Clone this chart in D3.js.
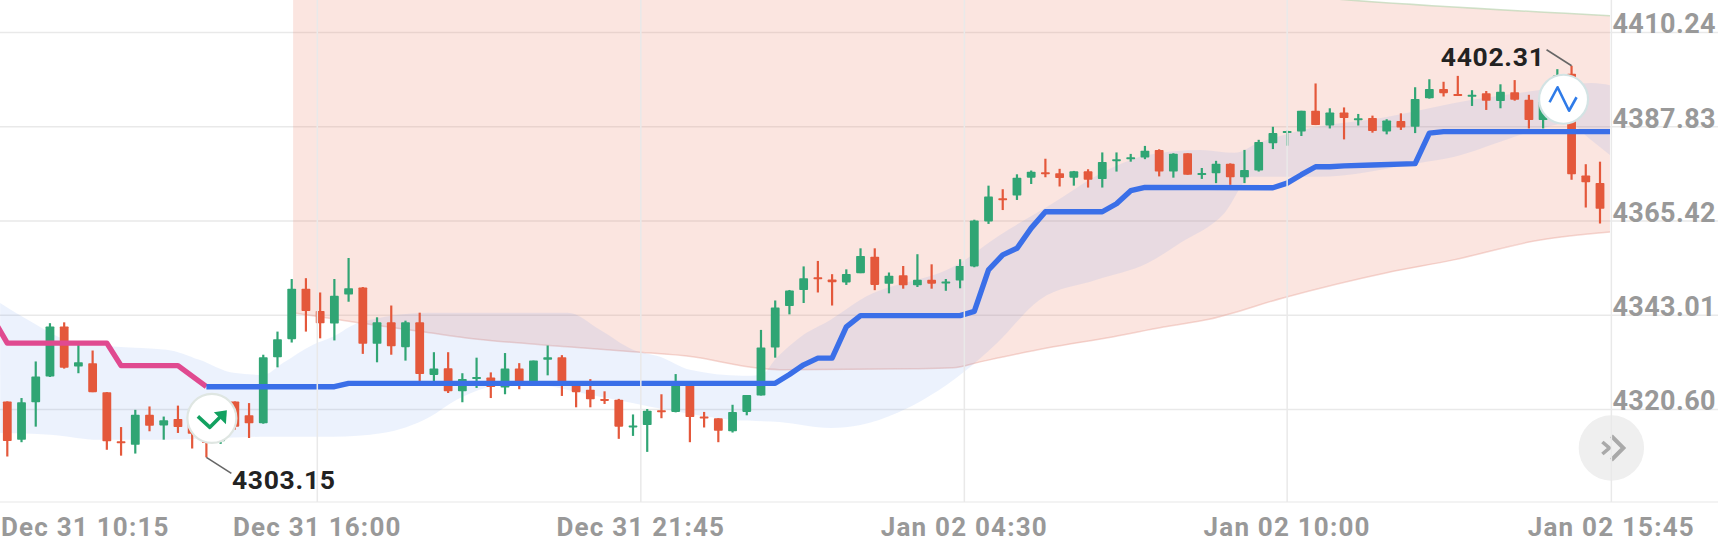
<!DOCTYPE html>
<html><head><meta charset="utf-8">
<style>html,body{margin:0;padding:0;background:#fff;overflow:hidden}svg{display:block}</style>
<script src="https://cdn.jsdelivr.net/npm/d3@7"></script></head><body><svg id="c"></svg>
<script>
const opens=[4322.5,4313.4,4322.3,4328.4,4340.3,4330.8,4331.6,4324.7,4313.0,4312.2,4319.3,4316.8,4318.3,4318.1,4315.0,4313.0,4322.5,4319.2,4317.3,4333.0,4337.3,4349.3,4344.0,4341.0,4347.9,4349.6,4336.2,4341.3,4335.4,4341.3,4328.8,4330.4,4324.9,4327.8,4328.2,4325.8,4330.3,4326.4,4332.4,4333.0,4326.4,4325.3,4323.1,4322.9,4316.5,4316.9,4320.4,4320.0,4326.4,4318.9,4318.5,4315.4,4320.0,4323.9,4335.3,4345.2,4349.0,4352.0,4351.5,4350.8,4353.0,4356.9,4350.45,4352.5,4350.1,4351.4,4350.8,4351.25,4354.6,4365.3,4370.8,4371.45,4375.7,4377.0,4376.75,4375.7,4377.2,4375.4,4379.8,4380.3,4380.5,4382.3,4377.15,4381.5,4376.4,4376.75,4379.0,4375.8,4377.4,4383.9,4386.5,4386.65,4391.6,4388.1,4391.2,4389.6,4389.9,4386.65,4389.2,4387.8,4394.6,4396.8,4395.6,4395.1,4395.8,4393.9,4396.0,4394.2,4389.4,4394.2,4400.4,4376.2,4374.45];
const highs=[4322.5,4323.3,4332.0,4341.1,4341.3,4336.0,4334.6,4324.7,4316.4,4320.5,4321.3,4318.9,4321.5,4320.5,4315.8,4316.5,4322.5,4322.1,4333.6,4339.1,4351.6,4351.8,4348.4,4351.6,4356.6,4349.7,4342.5,4345.3,4341.7,4343.6,4334.2,4334.2,4329.2,4332.9,4329.4,4334.0,4331.6,4332.2,4335.8,4333.5,4326.4,4327.8,4324.9,4323.1,4319.4,4320.7,4324.2,4329.0,4326.4,4320.0,4318.5,4321.7,4324.0,4339.5,4346.5,4349.0,4354.6,4355.9,4352.75,4353.9,4358.9,4358.9,4353.15,4354.7,4357.5,4355.1,4351.6,4356.3,4365.7,4373.8,4372.95,4376.5,4377.4,4380.2,4377.8,4377.3,4377.7,4381.7,4381.7,4381.35,4383.25,4382.45,4381.5,4381.5,4378.0,4379.7,4379.1,4382.3,4384.7,4387.8,4386.9,4391.6,4398.1,4392.2,4392.4,4390.85,4390.45,4389.6,4391.0,4397.2,4399.1,4398.5,4399.9,4396.5,4396.3,4397.9,4398.9,4395.4,4394.0,4401.5,4402.31,4378.9,4379.5];
const lows=[4309.4,4312.8,4316.5,4328.3,4330.3,4329.2,4324.7,4311.0,4309.6,4310.1,4315.4,4313.4,4315.0,4311.3,4309.2,4312.4,4315.8,4313.8,4317.2,4330.6,4336.5,4339.1,4337.5,4337.0,4346.2,4333.8,4331.8,4333.6,4332.2,4327.2,4327.2,4324.5,4322.3,4325.7,4323.3,4324.2,4325.4,4326.3,4328.7,4323.8,4321.1,4321.1,4321.9,4313.6,4314.3,4310.5,4318.5,4319.9,4312.8,4316.3,4312.8,4315.1,4319.2,4323.9,4332.9,4343.2,4345.9,4348.4,4345.3,4350.2,4353.0,4348.95,4348.2,4349.3,4349.7,4349.3,4348.8,4349.4,4354.4,4364.7,4368.0,4370.4,4374.2,4375.8,4373.6,4373.8,4373.35,4373.35,4377.15,4379.5,4380.1,4376.0,4375.7,4376.4,4375.4,4374.4,4374.0,4374.4,4377.15,4382.5,4383.3,4385.6,4388.2,4387.4,4384.8,4388.1,4386.4,4386.0,4387.05,4386.3,4394.5,4395.0,4395.2,4392.75,4391.8,4392.2,4394.0,4387.4,4387.4,4393.5,4375.2,4368.6,4364.8];
const closes=[4313.1,4322.3,4328.4,4340.3,4330.5,4331.8,4324.7,4313.0,4312.6,4319.3,4316.7,4318.0,4316.4,4314.8,4312.6,4315.8,4316.5,4317.3,4333.0,4337.3,4349.3,4344.0,4341.1,4347.6,4349.4,4336.2,4341.3,4335.6,4341.3,4329.0,4330.3,4324.9,4327.8,4328.3,4325.9,4330.3,4326.4,4332.2,4333.0,4326.4,4324.7,4323.0,4322.8,4316.5,4316.8,4320.3,4320.1,4326.4,4318.8,4318.6,4315.5,4320.0,4324.0,4335.3,4344.8,4348.9,4351.8,4351.6,4350.85,4352.8,4357.1,4350.2,4352.4,4350.1,4351.4,4350.5,4351.0,4354.7,4365.5,4371.2,4370.6,4375.7,4377.1,4376.7,4375.6,4377.2,4375.2,4379.45,4380.1,4380.55,4382.1,4377.15,4381.4,4376.4,4376.8,4379.0,4375.8,4377.5,4384.2,4386.3,4386.8,4391.6,4388.2,4391.2,4389.9,4389.8,4386.8,4389.3,4387.6,4394.4,4396.8,4395.8,4395.3,4395.4,4394.0,4396.1,4394.2,4389.4,4393.8,4400.0,4376.5,4374.6,4368.3];
const priceTicks=[4410.24,4387.83,4365.42,4343.01,4320.60];
const timeTickPos=[-1,21.8,44.55,67.3,90.0,112.8];
const timeTickLabels=["Dec 31 10:15","Dec 31 16:00","Dec 31 21:45","Jan 02 04:30","Jan 02 10:00","Jan 02 15:45"];
const pinkIdx=[-2,0,7,8,12,14];
const pinkVal=[4348,4336.35,4336.35,4331.0,4331.0,4326.0];
const blueIdx=[14,23,24,54,55,56,57,58,59,60,67,68,69,70,71,72,73,77,78,79,80,89,90,91,92,93,94,96,99,100,101,113];
const blueVal=[4326.0,4326.0,4326.8,4326.8,4328.9,4331.2,4332.8,4332.8,4340.2,4342.9,4342.9,4343.9,4353.8,4357.35,4358.9,4363.7,4367.6,4367.6,4369.5,4372.6,4373.4,4373.3,4374.4,4376.4,4378.3,4378.3,4378.5,4378.7,4379.05,4386.3,4386.65,4386.65];
const cloudTopIdx=[-0.5,1.8,4.2,7.7,11.2,13.5,15.9,18.0,19.4,21.5,22.9,24.7,29.7,39.4,41.7,44.0,45.9,48.0,51.7,53.0,54.1,55.8,57.9,60.0,67.0,69.6,73.1,77.8,80.2,83.9,86.3,88.0,91.1,97.0,103.0,107.8,111.4,112.7];
const cloudTopVal=[4345.9,4341.2,4337.1,4335.5,4334.8,4332.4,4329.3,4328.8,4331.7,4336.0,4337.9,4341.2,4343.6,4343.6,4339.5,4334.8,4333.1,4330.0,4328.6,4328.8,4332.9,4337.9,4341.9,4346.65,4355.4,4361.6,4368.75,4378.25,4381.1,4382.3,4381.6,4384.0,4387.05,4390.1,4394.2,4396.55,4398.2,4397.7];
const cloudBotIdx=[-0.5,3.0,6.5,11.2,18.3,22.9,26.4,29.7,31.6,35.9,41.7,46.4,51.0,54.3,57.9,60.0,62.6,67.2,69.6,72.6,76.6,80.2,82.5,85.6,87.5,92.1,99.3,101.7,105.4,108.0,109.8,111.2,112.7];
const cloudBotVal=[4315.0,4314.6,4313.4,4313.4,4314.1,4314.1,4315.0,4318.8,4322.9,4326.9,4323.6,4320.5,4318.1,4317.6,4316.2,4316.9,4319.8,4329.3,4336.4,4346.65,4351.4,4355.4,4360.2,4367.3,4375.9,4375.9,4379.2,4380.6,4384.7,4387.5,4388.7,4385.15,4381.1];
const bandBotIdx=[20.1,24.7,29.7,32.3,39.4,44.0,48.2,52.2,54.6,63.7,66.5,68.4,73.1,77.8,81.3,84.6,89.7,97.0,101.7,107.8,112.7];
const bandBotVal=[4343.6,4341.2,4338.8,4337.6,4335.5,4334.3,4333.1,4330.7,4330.0,4330.25,4330.5,4331.9,4335.2,4337.9,4340.2,4342.1,4347.1,4353.1,4356.15,4360.9,4362.8];
const bandTopIdx=[20.1,60,94.5,112.7];
const bandTopVal=[4440,4430,4417.9,4414.2];
const lowLabel="4303.15", highLabel="4402.31";

const W=1718,H=547,axisY=502,rightX=1610;
const svg=d3.select("#c").attr("width",W).attr("height",H);
const x=d3.scaleLinear().domain([0,112]).range([7.3,1600]);
const y=d3.scaleLinear().domain([priceTicks[4],priceTicks[0]]).range([409.4,32.4]);
const fontF='Roboto,"Noto Sans",sans-serif';
const GREEN="#30a574",RED="#e4583b",GRID="#e9e9e9";
const defs=svg.append("defs");
defs.append("clipPath").attr("id","plot").append("rect").attr("x",0).attr("y",0).attr("width",rightX).attr("height",axisY);
const plot=svg.append("g").attr("clip-path","url(#plot)");

svg.insert("g","g").selectAll("line").data(priceTicks).join("line")
 .attr("x1",0).attr("x2",W).attr("y1",d=>y(d)).attr("y2",d=>y(d)).attr("stroke",GRID).attr("stroke-width",1.5);
const pts=(a,b)=>a.map((d,i)=>[d,b[i]]);
const smooth=d3.line().x(p=>x(p[0])).y(p=>y(p[1])).curve(d3.curveMonotoneX);
const area=(t,b)=>{const a=smooth(t);const c=smooth(b.slice().reverse());return a+"L"+c.slice(1)+"Z";};
const bt=pts(bandTopIdx,bandTopVal),bb=pts(bandBotIdx,bandBotVal),ct=pts(cloudTopIdx,cloudTopVal),cb=pts(cloudBotIdx,cloudBotVal);
plot.append("path").attr("d",area(bt,bb)).attr("fill","#ec7f66").attr("fill-opacity",.2);
plot.append("path").attr("d",smooth(bb)).attr("fill","none").attr("stroke","#e8a79b").attr("stroke-opacity",.45).attr("stroke-width",1.5);
plot.append("path").attr("d",smooth(bt)).attr("fill","none").attr("stroke","#bcd6b4").attr("stroke-opacity",.7).attr("stroke-width",1.5);
plot.append("path").attr("d",area(ct,cb)).attr("fill","#4a83ea").attr("fill-opacity",.105);
svg.append("line").attr("x1",0).attr("x2",W).attr("y1",axisY).attr("y2",axisY).attr("stroke","#efefef").attr("stroke-width",1.5);
const btnX=x(timeTickPos[5]);
const btn=svg.append("g").attr("transform",`translate(${btnX},448)`);
btn.append("circle").attr("r",32.7).attr("fill","#efefef");
svg.append("g").selectAll("line").data(timeTickPos.slice(1)).join("line")
 .attr("x1",d=>x(d)).attr("x2",d=>x(d)).attr("y1",0).attr("y2",axisY).attr("stroke",GRID).attr("stroke-width",1.5);
btn.append("path").attr("d","M0,-12L12,0L0,12").attr("fill","none").attr("stroke","#a9a9a9").attr("stroke-width",4);
btn.append("path").attr("d","M-9,-6L-2,0L-9,6").attr("fill","none").attr("stroke","#a9a9a9").attr("stroke-width",3.6);
const idx=d3.range(opens.length);
const col=i=>closes[i]>=opens[i]?GREEN:RED;
plot.append("g").selectAll("line").data(idx).join("line")
 .attr("x1",i=>x(i)).attr("x2",i=>x(i)).attr("y1",i=>y(highs[i])).attr("y2",i=>y(lows[i])).attr("stroke",col).attr("stroke-width",2.2);
plot.append("g").selectAll("rect").data(idx).join("rect")
 .attr("x",i=>x(i)-4.4).attr("width",8.8)
 .attr("y",i=>Math.min(y(opens[i]),y(closes[i]))).attr("height",i=>Math.max(2,Math.abs(y(opens[i])-y(closes[i]))))
 .attr("rx",.8).attr("fill",col);
const ln=d3.line().x(p=>x(p[0])).y(p=>y(p[1]));
plot.append("path").attr("d",ln(pts(pinkIdx,pinkVal))).attr("fill","none").attr("stroke","#e04a90").attr("stroke-width",5.4).attr("stroke-linejoin","round");
plot.append("path").attr("d",ln(pts(blueIdx,blueVal))).attr("fill","none").attr("stroke","#3a6fe8").attr("stroke-width",5.4).attr("stroke-linejoin","round");
const lowI=14,highI=110;
const anno=svg.append("g");
anno.append("path").attr("d",`M${x(lowI)},${y(lows[lowI])}L${x(lowI)+25},${y(lows[lowI])+16}`).attr("fill","none").attr("stroke","#666").attr("stroke-width",1.6);
anno.append("text").attr("x",x(lowI)+25.5).attr("y",y(lows[lowI])+32).text(lowLabel);
anno.append("path").attr("d",`M${x(highI)},${y(highs[highI])}L${x(highI)-25},${y(highs[highI])-16}`).attr("fill","none").attr("stroke","#666").attr("stroke-width",1.6);
anno.append("text").attr("x",x(highI)-27).attr("y",y(highs[highI])).attr("text-anchor","end").text(highLabel);
anno.selectAll("text").attr("font-family",fontF).attr("font-size",26.5).attr("font-weight",700).attr("fill","#222").attr("letter-spacing",.7);
const b1=svg.append("g").attr("transform",`translate(${x(lowI)+5.5},${y(lows[lowI])-39})`);
b1.append("circle").attr("r",24.5).attr("fill","#fff").attr("stroke","#dfe6e2").attr("stroke-width",2.2);
b1.append("path").attr("d","M-14,-2L-2,9L10,-3").attr("fill","none").attr("stroke","#12a160").attr("stroke-width",3.6).attr("stroke-linejoin","round");
b1.append("path").attr("d","M2,-6L15,-8L14,6Z").attr("fill","#12a160");
const b2=svg.append("g").attr("transform",`translate(${x(highI)-8},${y(highs[highI])+33.5})`);
b2.append("circle").attr("r",24.5).attr("fill","#fff").attr("stroke","#d3e3e4").attr("stroke-width",2.2);
b2.append("path").attr("d","M-14,3L-6,-12L5.5,11.5L13,-2").attr("fill","none").attr("stroke","#2f7be8").attr("stroke-width",2.6).attr("stroke-linejoin","round");
svg.append("g").selectAll("text").data(priceTicks).join("text")
 .attr("x",W-2).attr("y",d=>y(d)+1).attr("text-anchor","end").text(d=>d.toFixed(2))
 .attr("font-family",fontF).attr("font-size",27).attr("font-weight",700).attr("fill","#999").attr("letter-spacing",.4);
svg.append("g").selectAll("text").data(timeTickPos).join("text")
 .attr("y",536).text((d,i)=>timeTickLabels[i])
 .attr("font-family",fontF).attr("font-size",26).attr("font-weight",700).attr("fill","#999").attr("letter-spacing",1.2)
 .attr("text-anchor","middle")
 .attr("x",function(d){const w=this.getComputedTextLength();return Math.max(w/2+1,Math.min(W-3-w/2,x(d)));});
</script></body></html>
